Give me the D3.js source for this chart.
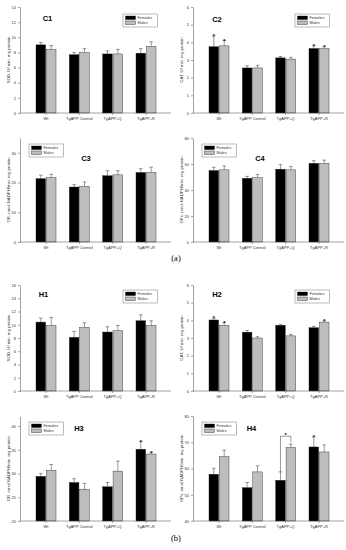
<!DOCTYPE html>
<html>
<head>
<meta charset="utf-8">
<script src="https://cdn.jsdelivr.net/npm/d3@7"></script>
<style>
  body { margin: 0; background: #fff; }
  svg { display: block; font-family: "Liberation Sans", Arial, sans-serif; }
  .axis path, .axis line { stroke: #444; stroke-width: 0.5; }
</style>
</head>
<body>
<script>
// Groups and series
const groups = ["Wt", "TgAPP Control", "TgAPP+Q", "TgAPP+R"];
const series = ["Females", "Males"];

// (a) panels C1..C4 : means and SEM (upper error only)
const c1F = [9.0, 7.7, 7.8, 7.9],     c1Fe = [0.3, 0.3, 0.4, 0.6];
const c1M = [8.4, 8.0, 7.8, 8.8],     c1Me = [0.5, 0.5, 0.6, 0.6];
const c2F = [3.75, 2.55, 3.12, 3.65], c2Fe = [0.6, 0.12, 0.08, 0.15];
const c2M = [3.8, 2.55, 3.05, 3.65],  c2Me = [0.3, 0.15, 0.1, 0.1];
const c3F = [21.3, 18.5, 22.3, 23.4], c3Fe = [1.2, 0.8, 1.7, 1.3];
const c3M = [21.7, 18.7, 22.6, 23.4], c3Me = [1.1, 1.5, 1.4, 1.8];
const c4F = [55, 49, 56, 60.5],       c4Fe = [2.5, 1.5, 3.5, 2];
const c4M = [55.5, 49.5, 55.5, 60.5], c4Me = [3, 2.5, 2.5, 2.5];

// (b) panels H1..H4
const h1F = [10.4, 8.1, 8.9, 10.6],   h1Fe = [0.6, 0.9, 0.8, 0.9];
const h1M = [9.9, 9.6, 9.1, 9.9],     h1Me = [1.2, 0.7, 0.8, 0.7];
const h2F = [4.02, 3.33, 3.72, 3.58], h2Fe = [0.1, 0.1, 0.05, 0.08];
const h2M = [3.72, 3.0, 3.12, 3.9],   h2Me = [0.15, 0.07, 0.08, 0.07];
const h3F = [29.4, 28.1, 27.2, 35.1], h3Fe = [0.6, 0.8, 0.9, 1.6];
const h3M = [30.7, 26.7, 30.5, 34.1], h3Me = [1.2, 1.2, 2.1, 0.3];
const h4F = [57.8, 52.7, 55.5, 68.2], h4Fe = [2.3, 2.0, 3.2, 3.8];
const h4M = [64.5, 58.7, 68.0, 66.3], h4Me = [2.5, 2.3, 1.3, 2.7];

// significance marks (1 = asterisk over that bar)
const none = [0, 0, 0, 0];
const c2StarF = [1, 0, 0, 1], c2StarM = [1, 0, 0, 1];
const h2StarF = [1, 0, 0, 0], h2StarM = [1, 0, 0, 1];
const h3StarF = [0, 0, 0, 1], h3StarM = [0, 0, 0, 1];
const h4StarF = [0, 0, 0, 1], h4StarM = [0, 0, 0, 0];

// y axis settings
const c1Domain = [0, 14], c1Ticks = d3.range(0, 15, 2);
const c2Domain = [0, 6],  c2Ticks = d3.range(0, 7, 1);
const c3Domain = [0, 35], c3Ticks = [0, 10, 20, 30];
const c4Domain = [0, 80], c4Ticks = d3.range(0, 81, 20);
const h1Domain = [0, 16], h1Ticks = d3.range(0, 17, 2);
const h2Domain = [0, 6],  h2Ticks = d3.range(0, 7, 1);
const h3Domain = [20, 42], h3Ticks = d3.range(20, 41, 5);
const h4Domain = [40, 80], h4Ticks = d3.range(40, 81, 10);

const sodLabel = "SOD, U/ min. mg protein";
const catLabel = "CAT, U/ min. mg protein";
const grLabel = "GR, nmol NADPH/min. mg protein";
const gpxLabel = "GPx, nmol NADPH/min. mg protein";

const colors = { Females: "#000", Males: "#bdbdbd" };

const svg = d3.select("body").append("svg")
    .attr("width", 346)
    .attr("height", 550);

// panel layout (axis origin, top, bottom, legend side, title position)
const panels = [
  { name: "C1", ax: 20,  top: 7,   bottom: 113, dom: c1Domain, ticks: c1Ticks, label: sodLabel,
    F: c1F, M: c1M, Fe: c1Fe, Me: c1Me, sF: none, sM: none, leg: [123, 14], title: [47.5, 21] },
  { name: "C2", ax: 193, top: 7,   bottom: 113, dom: c2Domain, ticks: c2Ticks, label: catLabel,
    F: c2F, M: c2M, Fe: c2Fe, Me: c2Me, sF: c2StarF, sM: c2StarM, leg: [295, 14], title: [217, 22] },
  { name: "C3", ax: 20,  top: 138, bottom: 242, dom: c3Domain, ticks: c3Ticks, label: grLabel,
    F: c3F, M: c3M, Fe: c3Fe, Me: c3Me, sF: none, sM: none, leg: [29, 144], title: [86, 161] },
  { name: "C4", ax: 193, top: 138, bottom: 242, dom: c4Domain, ticks: c4Ticks, label: gpxLabel,
    F: c4F, M: c4M, Fe: c4Fe, Me: c4Me, sF: none, sM: none, leg: [202, 144], title: [260, 161] },
  { name: "H1", ax: 20,  top: 285, bottom: 391, dom: h1Domain, ticks: h1Ticks, label: sodLabel,
    F: h1F, M: h1M, Fe: h1Fe, Me: h1Me, sF: none, sM: none, leg: [123, 290], title: [43.5, 297] },
  { name: "H2", ax: 193, top: 285, bottom: 391, dom: h2Domain, ticks: h2Ticks, label: catLabel,
    F: h2F, M: h2M, Fe: h2Fe, Me: h2Me, sF: h2StarF, sM: h2StarM, leg: [295, 290], title: [217, 297] },
  { name: "H3", ax: 20,  top: 416.5, bottom: 521, dom: h3Domain, ticks: h3Ticks, label: grLabel,
    F: h3F, M: h3M, Fe: h3Fe, Me: h3Me, sF: h3StarF, sM: h3StarM, leg: [29, 422], title: [79, 431] },
  { name: "H4", ax: 193, top: 416, bottom: 521, dom: h4Domain, ticks: h4Ticks, label: gpxLabel,
    F: h4F, M: h4M, Fe: h4Fe, Me: h4Me, sF: h4StarF, sM: h4StarM, leg: [202, 422], title: [251.5, 431],
    bracket: 2 }
];

panels.forEach(p => drawPanel(p));

function drawPanel(p) {
  const g = svg.append("g");

  const x0 = d3.scaleBand()
      .domain(groups)
      .range([p.ax + 16, p.ax + 136])
      .paddingInner(0.4)
      .paddingOuter(0);

  const x1 = d3.scaleBand()
      .domain(series)
      .range([0, x0.bandwidth()])
      .paddingInner(0.08);

  const y = d3.scaleLinear()
      .domain(p.dom)
      .range([p.bottom, p.top]);

  // bars
  const rows = groups.map((grp, i) => ({
    grp: grp,
    vals: [
      { s: "Females", v: p.F[i], e: p.Fe[i], star: p.sF[i] },
      { s: "Males", v: p.M[i], e: p.Me[i], star: p.sM[i] }
    ]
  }));

  const grpSel = g.selectAll("g.grp")
      .data(rows)
      .enter()
      .append("g")
      .attr("class", "grp")
      .attr("transform", d => `translate(${x0(d.grp)},0)`);

  // error bars (upper only)
  grpSel.selectAll("path.err")
      .data(d => d.vals)
      .enter()
      .append("path")
      .attr("class", "err")
      .attr("fill", "none")
      .attr("stroke", "#333")
      .attr("stroke-width", 0.5)
      .attr("d", d => {
        const cx = x1(d.s) + x1.bandwidth() / 2;
        const yt = y(d.v + d.e);
        return `M${cx},${y(d.v)}V${yt}M${cx - 1.8},${yt}H${cx + 1.8}`;
      });

  grpSel.selectAll("rect")
      .data(d => d.vals)
      .enter()
      .append("rect")
      .attr("x", d => x1(d.s))
      .attr("width", x1.bandwidth())
      .attr("y", d => y(d.v))
      .attr("height", d => y(p.dom[0]) - y(d.v))
      .attr("fill", d => colors[d.s])
      .attr("stroke", "#222")
      .attr("stroke-width", 0.4);

  grpSel.selectAll("text.star")
      .data(d => d.vals.filter(v => v.star))
      .enter()
      .append("text")
      .attr("class", "star")
      .attr("x", d => x1(d.s) + x1.bandwidth() / 2)
      .attr("y", d => y(d.v + d.e) + 2.2)
      .attr("text-anchor", "middle")
      .attr("font-size", 5.5)
      .attr("font-weight", "bold")
      .text("*");

  // bracket between females and males of one group
  if (p.bracket !== undefined) {
    const i = p.bracket;
    const xa = x0(groups[i]) + x1("Females") + x1.bandwidth() / 2;
    const xb = x0(groups[i]) + x1("Males") + x1.bandwidth() / 2;
    const ya = y(p.F[i] + p.Fe[i]);
    const yb = y(p.M[i] + p.Me[i] + 0.8);
    const yt = y(p.M[i] + p.Me[i] + 3);
    g.append("path")
        .attr("fill", "none")
        .attr("stroke", "#333")
        .attr("stroke-width", 0.5)
        .attr("d", `M${xa},${ya}V${yt}H${xb}V${yb}`);
    g.append("text")
        .attr("x", (xa + xb) / 2)
        .attr("y", yt + 1.2)
        .attr("text-anchor", "middle")
        .attr("font-size", 5.5)
        .attr("font-weight", "bold")
        .text("*");
  }

  // y axis
  g.append("g")
      .attr("class", "axis")
      .attr("transform", `translate(${p.ax},0)`)
      .call(d3.axisLeft(y).tickValues(p.ticks).tickFormat(d3.format("d"))
          .tickSize(2).tickSizeOuter(0).tickPadding(2))
      .call(a => a.attr("font-family", null).attr("font-size", null))
      .call(a => a.selectAll("text").attr("font-size", 4).attr("fill", "#333"));

  // x axis
  const xa = g.append("g")
      .attr("class", "axis")
      .attr("transform", `translate(0,${p.bottom})`);
  xa.append("line")
      .attr("x1", p.ax).attr("x2", p.ax + 151)
      .attr("stroke", "#444").attr("stroke-width", 0.5);
  xa.selectAll("line.tk")
      .data(groups)
      .enter()
      .append("line")
      .attr("class", "tk")
      .attr("x1", d => x0(d) + x0.bandwidth() / 2)
      .attr("x2", d => x0(d) + x0.bandwidth() / 2)
      .attr("y1", 0).attr("y2", 2)
      .attr("stroke", "#444").attr("stroke-width", 0.5);
  xa.selectAll("text")
      .data(groups)
      .enter()
      .append("text")
      .attr("x", d => x0(d) + x0.bandwidth() / 2)
      .attr("y", 6.5)
      .attr("text-anchor", "middle")
      .attr("font-size", 4)
      .attr("fill", "#333")
      .text(d => d);

  // y label
  g.append("text")
      .attr("transform", `translate(${p.ax - 10.5},${(p.top + p.bottom) / 2}) rotate(-90)`)
      .attr("text-anchor", "middle")
      .attr("font-size", 4.3)
      .attr("fill", "#333")
      .text(p.label);

  // title
  g.append("text")
      .attr("x", p.title[0])
      .attr("y", p.title[1])
      .attr("text-anchor", "middle")
      .attr("font-size", 7.5)
      .attr("font-weight", "bold")
      .text(p.name);

  // legend
  const lg = g.append("g").attr("transform", `translate(${p.leg[0]},${p.leg[1]})`);
  lg.append("rect")
      .attr("width", 34.5).attr("height", 13)
      .attr("fill", "#fff").attr("stroke", "#555").attr("stroke-width", 0.4);
  series.forEach((s, k) => {
    lg.append("rect")
        .attr("x", 2.5).attr("y", 2 + k * 5)
        .attr("width", 10).attr("height", 3.6)
        .attr("fill", colors[s]).attr("stroke", "#222").attr("stroke-width", 0.4);
    lg.append("text")
        .attr("x", 14.5).attr("y", 5.2 + k * 5)
        .attr("font-size", 3.8)
        .attr("fill", "#333")
        .text(s);
  });
}

// sub-figure captions
svg.append("text")
    .attr("x", 176).attr("y", 261)
    .attr("text-anchor", "middle")
    .attr("font-family", "Liberation Serif, Times New Roman, serif")
    .attr("font-size", 8.5)
    .text("(a)");
svg.append("text")
    .attr("x", 176).attr("y", 541)
    .attr("text-anchor", "middle")
    .attr("font-family", "Liberation Serif, Times New Roman, serif")
    .attr("font-size", 8.5)
    .text("(b)");
</script>
</body>
</html>
